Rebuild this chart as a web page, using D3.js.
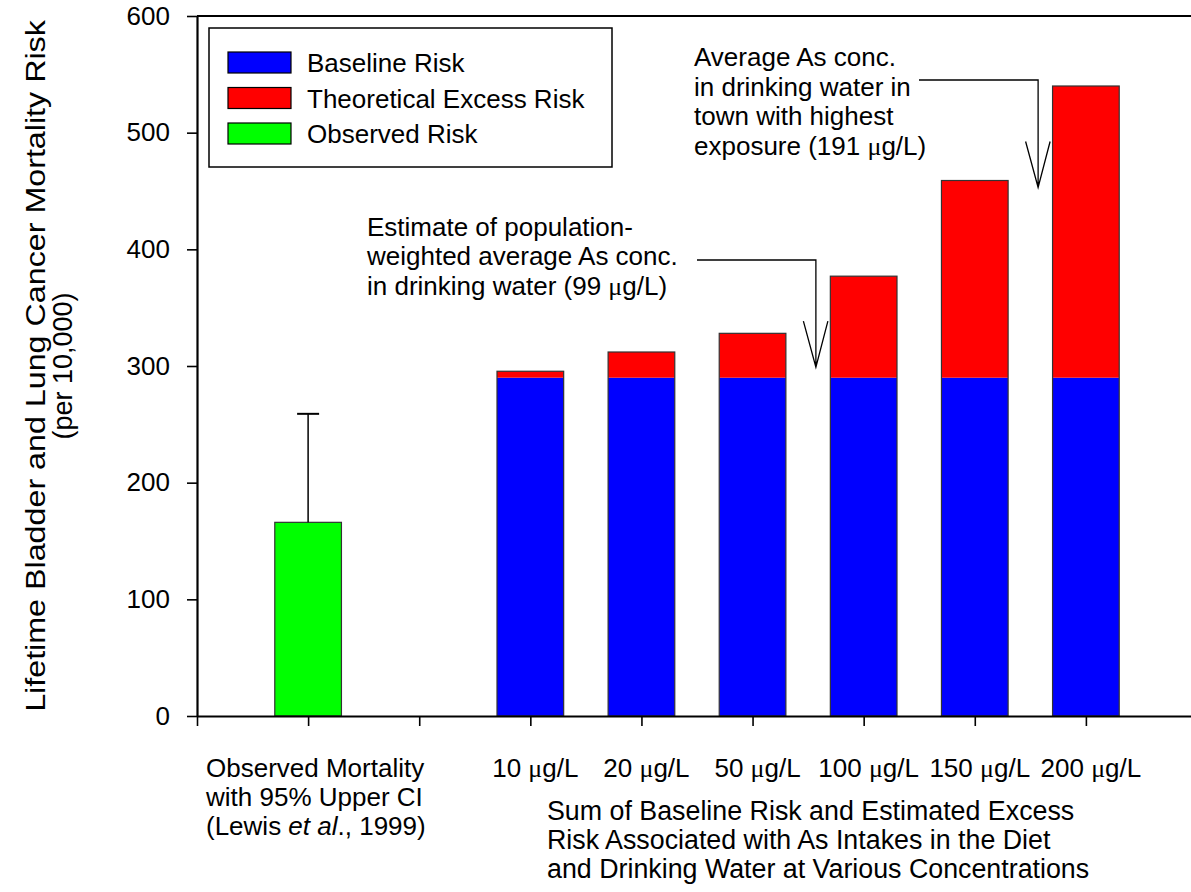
<!DOCTYPE html>
<html>
<head>
<meta charset="utf-8">
<script src="https://cdn.jsdelivr.net/npm/d3@7"></script>
<style>
body { margin: 0; background: #fff; }
text { font-family: "Liberation Sans", Arial, sans-serif; fill: #000; }
</style>
</head>
<body>
<svg id="chart" width="1191" height="892"></svg>
<script>
// values (risk per 10,000)
const concLabels = ["10 μg/L", "20 μg/L", "50 μg/L", "100 μg/L", "150 μg/L", "200 μg/L"];
const baselineRisk = [290, 290, 290, 290, 290, 290];
const excessRisk = [5.5, 22, 38, 87, 169, 250];
const observedRisk = 166;
const observedUpperCI = 259;
const yTicks = [0, 100, 200, 300, 400, 500, 600];
const legendItems = ["Baseline Risk", "Theoretical Excess Risk", "Observed Risk"];
const legendColors = ["#0000ff", "#ff0000", "#00ff00"];

const svg = d3.select("#chart");
const FS = 26;

var x = d3.scaleLinear().domain([0, 9]).range([197, 1197]);
var y = d3.scaleLinear().domain([0, 600]).range([716, 16]);
const slotW = x(1) - x(0);
const barW = slotW * 0.6;

// helper: write a string, putting the mu in a serif face like the original
function addText(sel, str) {
    const parts = str.split("μ");
    parts.forEach(function(p, i){
        if (i > 0) sel.append("tspan").style("font-family", "'Liberation Serif', serif").text("μ");
        sel.append("tspan").text(p);
    });
}

// stacked bars
const rows = concLabels.map(function(l, i){
    return {slot: i + 3, baseline: baselineRisk[i], excess: excessRisk[i]};
});
const series = d3.stack().keys(["baseline", "excess"])(rows);
const stackColor = {baseline: legendColors[0], excess: legendColors[1]};

svg.append("g").selectAll("g").data(series)
    .enter().append("g")
    .attr("fill", function(d){ return stackColor[d.key]; })
    .selectAll("rect").data(function(d){ return d; })
    .enter().append("rect")
    .attr("x", function(d){ return x(d.data.slot) - barW / 2; })
    .attr("y", function(d){ return y(d[1]); })
    .attr("width", barW)
    .attr("height", function(d){ return y(d[0]) - y(d[1]); });

svg.append("g").selectAll("rect").data(rows)
    .enter().append("rect")
    .attr("x", function(d){ return x(d.slot) - barW / 2; })
    .attr("y", function(d){ return y(d.baseline + d.excess); })
    .attr("width", barW)
    .attr("height", function(d){ return y(0) - y(d.baseline + d.excess); })
    .attr("fill", "none").attr("stroke", "#333").attr("stroke-width", 1.2);

// observed bar + upper CI
svg.append("rect")
    .attr("x", x(1) - barW / 2).attr("y", y(observedRisk))
    .attr("width", barW).attr("height", y(0) - y(observedRisk))
    .attr("fill", legendColors[2]).attr("stroke", "#333").attr("stroke-width", 1.2);
svg.append("line")
    .attr("x1", x(1)).attr("x2", x(1))
    .attr("y1", y(observedRisk)).attr("y2", y(observedUpperCI))
    .attr("stroke", "#000").attr("stroke-width", 1.5);
svg.append("line")
    .attr("x1", x(1) - 11).attr("x2", x(1) + 11)
    .attr("y1", y(observedUpperCI)).attr("y2", y(observedUpperCI))
    .attr("stroke", "#000").attr("stroke-width", 2);

// axes
var yAxis = svg.append("g").attr("transform", `translate(${x(0)},0)`)
    .call(d3.axisLeft(y).tickValues(yTicks).tickSize(10).tickSizeOuter(0).tickPadding(17));
var xAxis = svg.append("g").attr("transform", `translate(0,${y(0)})`)
    .call(d3.axisBottom(x).tickValues(d3.range(0, 9)).tickSize(10).tickSizeOuter(0).tickFormat(""));
[yAxis, xAxis].forEach(function(a){
    a.select(".domain").attr("stroke", "#000").attr("stroke-width", 2.2);
    a.selectAll(".tick line").attr("stroke", "#000").attr("stroke-width", 1.6);
    a.selectAll(".tick text").style("font-size", FS + "px").attr("fill", "#000");
});
// top frame line
svg.append("line")
    .attr("x1", x(0)).attr("x2", x(9))
    .attr("y1", y(600)).attr("y2", y(600))
    .attr("stroke", "#000").attr("stroke-width", 2.2);

// concentration labels
svg.append("g").selectAll("text").data(concLabels)
    .enter().append("text")
    .attr("x", function(d, i){ return x(i + 3) + 5; })
    .attr("y", 777)
    .attr("text-anchor", "middle")
    .style("font-size", FS + "px")
    .each(function(d){ addText(d3.select(this), d); });

// observed label block
var obs = svg.append("text").attr("x", 206).attr("y", 777).style("font-size", FS + "px");
obs.append("tspan").attr("x", 206).text("Observed Mortality");
obs.append("tspan").attr("x", 206).attr("dy", 29).text("with 95% Upper CI");
obs.append("tspan").attr("x", 206).attr("dy", 29).text("(Lewis ");
obs.append("tspan").style("font-style", "italic").text("et al");
obs.append("tspan").text("., 1999)");

var sum = svg.append("text").attr("y", 820).style("font-size", "26.8px");
["Sum of Baseline Risk and Estimated Excess",
 "Risk Associated with As Intakes in the Diet",
 "and Drinking Water at Various Concentrations"].forEach(function(t, i){
    sum.append("tspan").attr("x", 547).attr("dy", i ? 29 : 0).text(t);
});

// y title (first line is drawn stretched along its length in the original)
var yt = svg.append("text")
    .attr("text-anchor", "middle")
    .style("font-size", "28px")
    .text("Lifetime Bladder and Lung Cancer Mortality Risk");
var stretch = 692 / yt.node().getComputedTextLength();
yt.attr("transform", `translate(45,366) rotate(-90) scale(${stretch},1)`);
svg.append("text")
    .attr("transform", "translate(72,366) rotate(-90)")
    .attr("text-anchor", "middle")
    .style("font-size", "27px")
    .text("(per 10,000)");

// legend
var leg = svg.append("g");
leg.append("rect").attr("x", 209).attr("y", 28).attr("width", 403).attr("height", 139)
    .attr("fill", "#fff").attr("stroke", "#000").attr("stroke-width", 1.5);
legendItems.forEach(function(name, i){
    var yy = 52 + i * 35.5;
    leg.append("rect").attr("x", 228).attr("y", yy).attr("width", 63).attr("height", 21)
        .attr("fill", legendColors[i]).attr("stroke", "#000").attr("stroke-width", 1.2);
    leg.append("text").attr("x", 307).attr("y", yy + 20).style("font-size", FS + "px").text(name);
});

// annotations with arrows
function annotate(lines, tx, ty, tipSlot, tipVal, lineY, lineX0) {
    var t = svg.append("text").attr("y", ty).style("font-size", FS + "px");
    lines.forEach(function(s, i){
        var ts = t.append("tspan").attr("x", tx).attr("dy", i ? 29.5 : 0);
        addText(ts, s);
    });
    var px = x(tipSlot), py = y(tipVal);
    svg.append("path")
        .attr("d", `M${lineX0},${lineY}H${px}V${py}M${px - 12.5},${py - 46}L${px},${py}L${px + 12},${py - 46}`)
        .attr("fill", "none").attr("stroke", "#000").attr("stroke-width", 1.3);
}
annotate(["Estimate of population-", "weighted average As conc.", "in drinking water (99 μg/L)"],
    367, 235.5, 5.57, 299, 260, 697);
annotate(["Average As conc.", "in drinking water in", "town with highest", "exposure (191 μg/L)"],
    694, 66, 7.57, 453, 80, 919);
</script>
</body>
</html>
